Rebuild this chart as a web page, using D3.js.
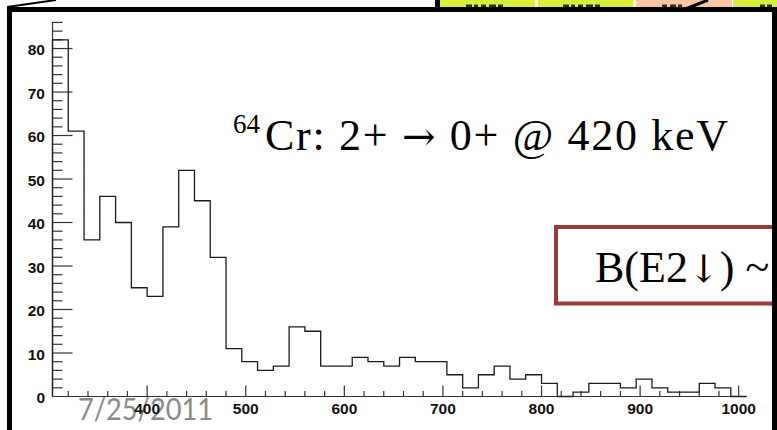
<!DOCTYPE html>
<html>
<head>
<meta charset="utf-8">
<script src="https://cdn.jsdelivr.net/npm/d3@7/dist/d3.min.js"></script>
<style>
  html, body { margin: 0; padding: 0; background: #fff; }
  svg { display: block; }
</style>
</head>
<body>
<script>
// Gamma-ray energy spectrum of 64Cr: 16 keV bins from 304 to 1008 keV
const binLowEdges = [304, 320, 336, 352, 368, 384, 400, 416, 432, 448, 464, 480, 496, 512, 528,
  544, 560, 576, 592, 608, 624, 640, 656, 672, 688, 704, 720, 736, 752, 768, 784, 800, 816, 832,
  848, 864, 880, 896, 912, 928, 944, 960, 976, 992];
const binWidth = 16;
const counts = [82, 61, 36, 46, 40, 25, 23, 39, 52, 45, 32, 11, 8, 6, 7, 16, 15, 7, 7, 9, 8, 7,
  9, 8, 8, 5, 2, 5, 7, 4, 5, 3, 0, 1, 3, 3, 2, 4, 2, 1, 1, 3, 2, 0];
const xMajorTicks = [400, 500, 600, 700, 800, 900, 1000];
const yMajorTicks = [0, 10, 20, 30, 40, 50, 60, 70, 80];
const xRange = [304, 1008];
const yMax = 86.1;

const W = 777, H = 430;
const svg = d3.select("body").append("svg").attr("width", W).attr("height", H);

// ---- slide table cells peeking above the plot frame ----
const strip = svg.append("g");
const cells = [
  { x: 435, w: 5, fill: "#000" },
  { x: 440, w: 95, fill: "#d8ef3a" },
  { x: 538, w: 95, fill: "#d8ef3a" },
  { x: 636, w: 96, fill: "#fcc6a6" },
  { x: 733, w: 44, fill: "#d8ef3a" }
];
strip.selectAll("rect.cell").data(cells).join("rect").attr("class", "cell")
  .attr("x", d => d.x).attr("y", 0).attr("width", d => d.w).attr("height", 8)
  .attr("fill", d => d.fill);
// lower edges of the cell lettering
const letterBits = [
  [466, 6], [474, 4], [481, 5], [489, 7], [498, 5],
  [563, 6], [571, 4], [578, 5], [586, 7], [595, 5],
  [662, 5], [670, 6], [678, 4],
  [760, 5], [767, 5]
];
strip.selectAll("rect.bit").data(letterBits).join("rect").attr("class", "bit")
  .attr("x", d => d[0]).attr("y", 4.5).attr("width", d => d[1]).attr("height", 2.5)
  .attr("fill", "#2a2a1a");
// callout pointers
svg.append("line").attr("x1", 7).attr("y1", 7).attr("x2", 56).attr("y2", 0)
  .attr("stroke", "#000").attr("stroke-width", 2);
svg.append("line").attr("x1", 683).attr("y1", 10).attr("x2", 708).attr("y2", 0)
  .attr("stroke", "#000").attr("stroke-width", 3);

// ---- slide date footer (behind the plot labels) ----
svg.append("text")
  .attr("x", 78).attr("y", 420)
  .attr("font-family", "Lato, 'Open Sans', sans-serif")
  .attr("font-size", 30).attr("fill", "#8a8a8a")
  .attr("textLength", 135).attr("lengthAdjust", "spacingAndGlyphs")
  .text("7/25/2011");

// ---- histogram ----
const x = d3.scaleLinear().domain(xRange).range([52.5, 746.6]);
const y = d3.scaleLinear().domain([0, yMax]).range([396.5, 22]);

const axisColor = "#333";
const sans = "'Liberation Sans', Arial, sans-serif";
const g = svg.append("g");

// x axis line and inward ticks
g.append("line").attr("x1", x(xRange[0])).attr("x2", x(xRange[1]))
  .attr("y1", y(0)).attr("y2", y(0)).attr("stroke", axisColor).attr("stroke-width", 1.2);
const xMinor = x.ticks(35).filter(v => v % 20 === 0 && v > xRange[0]);
g.selectAll(".xtick").data(xMinor).join("line")
  .attr("x1", d => x(d)).attr("x2", d => x(d))
  .attr("y1", y(0)).attr("y2", d => y(0) - (d % 100 === 0 ? 11 : 5.5))
  .attr("stroke", axisColor).attr("stroke-width", 1.2);
g.selectAll(".xlab").data(xMajorTicks).join("text")
  .attr("x", d => x(d)).attr("y", 413.5).attr("text-anchor", "middle")
  .attr("font-family", sans).attr("font-weight", "bold")
  .attr("font-size", 15.5).attr("fill", "#111").text(d => d);

// y axis line and inward ticks
g.append("line").attr("x1", x(xRange[0])).attr("x2", x(xRange[0]))
  .attr("y1", y(0)).attr("y2", y(yMax)).attr("stroke", axisColor).attr("stroke-width", 1.2);
const yMinor = y.ticks(43).filter(v => v % 2 === 0 && v > 0);
g.selectAll(".ytick").data(yMinor).join("line")
  .attr("x1", x(xRange[0])).attr("x2", d => x(xRange[0]) + (d % 10 === 0 ? 20 : 10))
  .attr("y1", d => y(d)).attr("y2", d => y(d))
  .attr("stroke", axisColor).attr("stroke-width", 1.2);
g.selectAll(".ylab").data(yMajorTicks).join("text")
  .attr("x", 45).attr("y", d => y(d) + 6.5).attr("text-anchor", "end")
  .attr("font-family", sans).attr("font-weight", "bold")
  .attr("font-size", 15.5).attr("fill", "#111").text(d => d);

// histogram outline as a step line
const pts = [[binLowEdges[0], 0]];
binLowEdges.forEach((e, i) => pts.push([e, counts[i]]));
const lastEdge = binLowEdges[binLowEdges.length - 1] + binWidth;
pts.push([lastEdge, counts[counts.length - 1]]);
pts.push([lastEdge, 0]);
const step = d3.line().x(d => x(d[0])).y(d => y(d[1])).curve(d3.curveStepAfter);
g.append("path").attr("d", step(pts)).attr("fill", "none")
  .attr("stroke", "#1a1a1a").attr("stroke-width", 1.3);

// ---- annotation text ----
const serif = "'Liberation Serif', 'Times New Roman', serif";
const arrowFont = "'DejaVu Serif', serif";
svg.append("text").attr("x", 233).attr("y", 133)
  .attr("font-family", serif).attr("font-size", 27).attr("fill", "#000").text("64");
const title = svg.append("text").attr("x", 265).attr("y", 149.5)
  .attr("font-family", serif).attr("font-size", 44).attr("fill", "#000")
  .attr("textLength", 463).attr("lengthAdjust", "spacing");
title.append("tspan").text("Cr: 2+ ");
title.append("tspan").attr("font-family", arrowFont).attr("font-size", 40).text("\u2192");
title.append("tspan").text(" 0+ @ 420 keV");

// B(E2) box
svg.append("rect").attr("x", 556).attr("y", 227).attr("width", 260).attr("height", 76.5)
  .attr("fill", "#fff").attr("stroke", "#9a3b39").attr("stroke-width", 4);
const be2 = svg.append("text").attr("x", 595).attr("y", 282)
  .attr("font-family", serif).attr("font-size", 44).attr("fill", "#000");
be2.append("tspan").text("B(E2");
be2.append("tspan").attr("font-family", arrowFont).attr("font-size", 38).text("\u2193");
be2.append("tspan").text(") ~");

// ---- black frame of the slide callout ----
const frame = svg.append("g").attr("fill", "#000");
frame.append("rect").attr("x", 7).attr("y", 7).attr("width", 770).attr("height", 5);
frame.append("rect").attr("x", 7).attr("y", 7).attr("width", 5).attr("height", H - 7);
frame.append("rect").attr("x", 772).attr("y", 7).attr("width", 5).attr("height", H - 7);
</script>
</body>
</html>
